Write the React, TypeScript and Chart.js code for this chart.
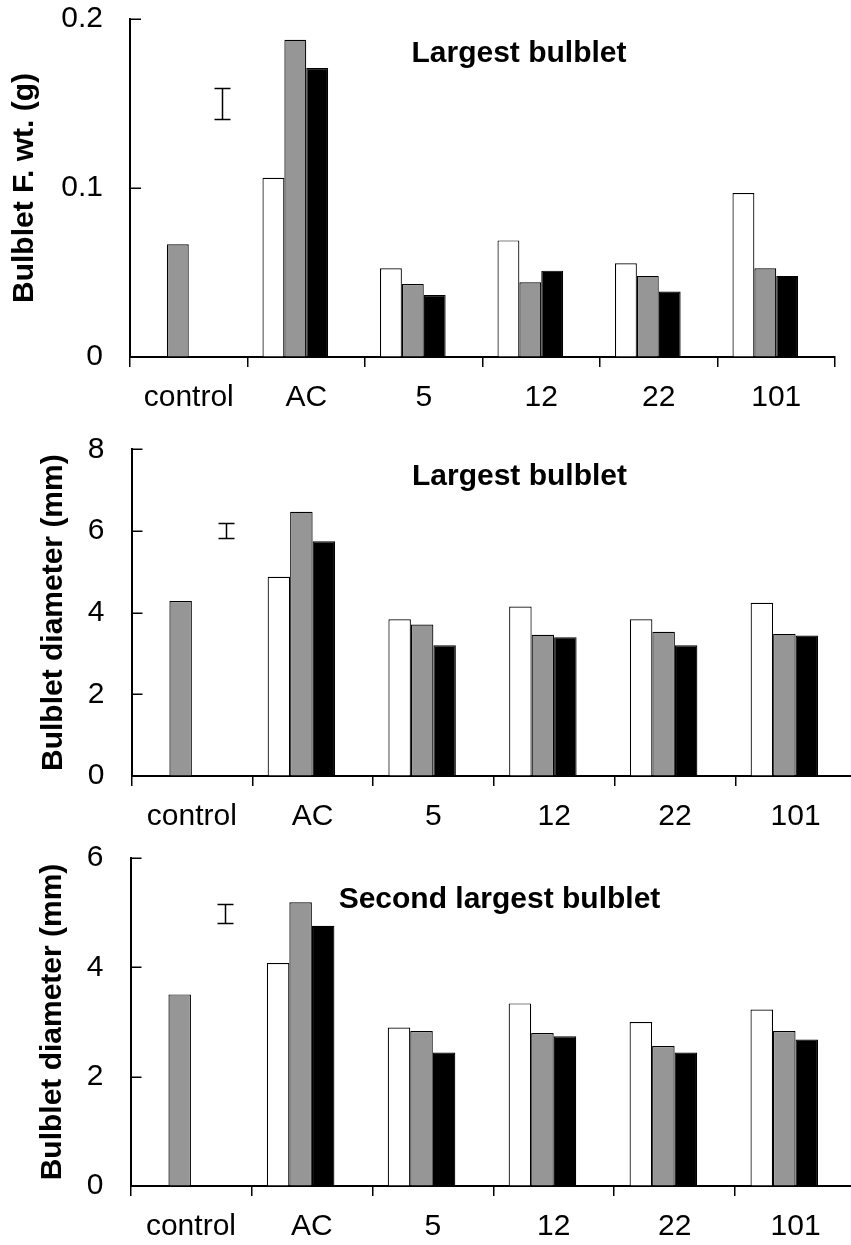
import React, { useEffect, useRef } from "react";
import { Chart, registerables } from "chart.js";

Chart.register(...registerables);

const FONT = '"Liberation Sans", Arial, Helvetica, sans-serif';

const categories = ["control", "AC", "5", "12", "22", "101"];

// Panel 1 – Largest bulblet fresh weight (g)
const fwWhite = [null, 0.106, 0.0525, 0.069, 0.0555, 0.097];
const fwGray = [0.0667, 0.1877, 0.0432, 0.0442, 0.048, 0.0525];
const fwBlack = [null, 0.171, 0.0367, 0.0511, 0.0387, 0.048];
const fwTicks = [0, 0.1, 0.2];
const fwError = [0.15, 0.0089]; // centre, half-length

// Panel 2 – Largest bulblet diameter (mm)
const d1White = [null, 4.88, 3.84, 4.15, 3.84, 4.24];
const d1Gray = [4.285, 6.47, 3.71, 3.46, 3.53, 3.48];
const d1Black = [null, 5.75, 3.2, 3.4, 3.2, 3.44];
const d1Ticks = [0, 2, 4, 6, 8];
const d1Error = [6.01, 0.175];

// Panel 3 – Second largest bulblet diameter (mm)
const d2White = [null, 4.08, 2.9, 3.34, 3.0, 3.23];
const d2Gray = [3.505, 5.19, 2.835, 2.8, 2.56, 2.835];
const d2Black = [null, 4.76, 2.44, 2.74, 2.44, 2.68];
const d2Ticks = [0, 2, 4, 6];
const d2Error = [4.99, 0.17];

// error bar position along the category axis (category index units)
const errorBarPos = 0.28;

type PanelProps = {
  top: number;
  width: number;
  height: number;
  yWidth: number;
  padTop: number;
  padRight: number;
  xHeight: number;
  yTitle: string;
  yTitlePad: number;
  title: string;
  titleX: number;
  titleBaseline: number;
  white: (number | null)[];
  gray: (number | null)[];
  black: (number | null)[];
  ticks: number[];
  err: number[];
};

function Panel(p: PanelProps) {
  const ref = useRef<HTMLCanvasElement | null>(null);
  useEffect(() => {
    const canvas = ref.current;
    if (!canvas) return;
    const deco = {
      id: "deco",
      afterDraw(chart: any) {
        const { ctx, chartArea, scales } = chart;
        const x = scales.x;
        const y = scales.y;
        ctx.save();
        ctx.strokeStyle = "#000";
        ctx.lineWidth = 1.5;
        // inward y ticks
        for (const t of y.ticks) {
          const py = Math.round(y.getPixelForValue(t.value)) + 0.25;
          ctx.beginPath();
          ctx.moveTo(chartArea.left, py);
          ctx.lineTo(chartArea.left + 11, py);
          ctx.stroke();
        }
        // error bar
        const catW = x.getPixelForValue(1) - x.getPixelForValue(0);
        const ex = Math.round(x.getPixelForValue(0) + errorBarPos * catW) + 0.5;
        const yt = Math.round(y.getPixelForValue(p.err[0] + p.err[1])) + 0.5;
        const yb = Math.round(y.getPixelForValue(p.err[0] - p.err[1])) + 0.5;
        ctx.beginPath();
        ctx.moveTo(ex, yt);
        ctx.lineTo(ex, yb);
        ctx.moveTo(ex - 8, yt);
        ctx.lineTo(ex + 8, yt);
        ctx.moveTo(ex - 8, yb);
        ctx.lineTo(ex + 8, yb);
        ctx.stroke();
        // panel title
        ctx.fillStyle = "#000";
        ctx.font = `bold 30px ${FONT}`;
        ctx.textAlign = "center";
        ctx.textBaseline = "alphabetic";
        ctx.fillText(p.title, p.titleX, p.titleBaseline);
        ctx.restore();
      },
    };
    const barStyle = { borderColor: "#000", borderWidth: 1.2 };
    const chart = new Chart(canvas, {
      type: "bar",
      data: {
        labels: categories,
        datasets: [
          { data: p.white, backgroundColor: "#ffffff", ...barStyle },
          { data: p.gray, backgroundColor: "#969696", ...barStyle },
          { data: p.black, backgroundColor: "#000000", ...barStyle },
          { data: categories.map(() => null), backgroundColor: "rgba(0,0,0,0)", borderWidth: 0 },
        ],
      },
      options: {
        animation: false,
        responsive: false,
        devicePixelRatio: 1,
        layout: { padding: { left: 0, top: p.padTop, right: p.padRight, bottom: 0 } },
        plugins: { legend: { display: false }, tooltip: { enabled: false } },
        datasets: { bar: { categoryPercentage: 0.745, barPercentage: 1 } },
        scales: {
          x: {
            grid: {
              offset: true,
              drawOnChartArea: false,
              drawTicks: true,
              tickLength: 10,
              color: "#000",
              lineWidth: 1.5,
            },
            border: { display: true, color: "#000", width: 2 },
            ticks: {
              color: "#000",
              font: { family: FONT, size: 30 },
              padding: 13,
              maxRotation: 0,
              autoSkip: false,
            },
            afterFit: (s: any) => {
              s.height = p.xHeight;
            },
          },
          y: {
            min: p.ticks[0],
            max: p.ticks[p.ticks.length - 1],
            afterBuildTicks: (s: any) => {
              s.ticks = p.ticks.map((v) => ({ value: v }));
            },
            grid: {
              drawOnChartArea: false,
              drawTicks: true,
              tickLength: 27,
              tickColor: "rgba(0,0,0,0)",
            },
            border: { display: true, color: "#000", width: 2 },
            ticks: {
              color: "#000",
              font: { family: FONT, size: 30 },
              padding: 0,
              callback: (v: any) => String(v),
            },
            title: {
              display: true,
              text: p.yTitle,
              color: "#000",
              font: { family: FONT, size: 30, weight: "bold" },
              padding: { top: p.yTitlePad, bottom: 0 },
            },
            afterFit: (s: any) => {
              s.width = p.yWidth;
            },
          },
        },
      } as any,
      plugins: [deco],
    });
    return () => chart.destroy();
  }, []);
  return (
    <canvas
      ref={ref}
      width={p.width}
      height={p.height}
      style={{ position: "absolute", left: 0, top: p.top, width: p.width, height: p.height }}
    />
  );
}

export default function App() {
  return (
    <div
      style={{
        position: "fixed",
        left: 0,
        top: 0,
        width: 851,
        height: 1245,
        overflow: "hidden",
        background: "#fff",
      }}
    >
      <Panel
        top={0}
        width={851}
        height={420}
        yWidth={130}
        padTop={19}
        padRight={16}
        xHeight={63}
        yTitle="Bulblet F. wt. (g)"
        yTitlePad={6.5}
        title="Largest bulblet"
        titleX={519}
        titleBaseline={62}
        white={fwWhite}
        gray={fwGray}
        black={fwBlack}
        ticks={fwTicks}
        err={fwError}
      />
      <Panel
        top={420}
        width={870}
        height={420}
        yWidth={131.5}
        padTop={29.3}
        padRight={14}
        xHeight={64}
        yTitle="Bulblet diameter (mm)"
        yTitlePad={36}
        title="Largest bulblet"
        titleX={519.5}
        titleBaseline={64.5}
        white={d1White}
        gray={d1Gray}
        black={d1Black}
        ticks={d1Ticks}
        err={d1Error}
      />
      <Panel
        top={840}
        width={870}
        height={405}
        yWidth={130.5}
        padTop={18}
        padRight={14}
        xHeight={59}
        yTitle="Bulblet diameter (mm)"
        yTitlePad={35}
        title="Second largest bulblet"
        titleX={499.5}
        titleBaseline={68}
        white={d2White}
        gray={d2Gray}
        black={d2Black}
        ticks={d2Ticks}
        err={d2Error}
      />
    </div>
  );
}
